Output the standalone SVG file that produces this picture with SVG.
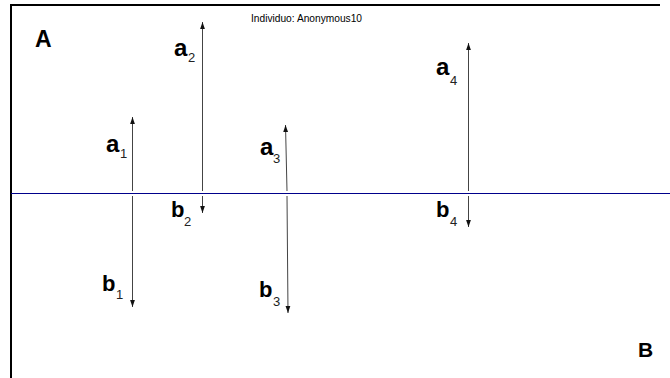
<svg xmlns="http://www.w3.org/2000/svg" width="670" height="378" viewBox="0 0 670 378">
<style>
.frame{stroke:#000;stroke-width:2;fill:none}
.axis{stroke:#00008b;stroke-width:1}
.arr{stroke:#444;stroke-width:1;fill:none;marker-end:url(#ah)}
.big{font-family:"Liberation Sans",Arial,sans-serif;font-weight:bold;fill:#000}
.la{font-size:24px}
.lb{font-size:22px}
.sub{font-family:"Liberation Sans",Arial,sans-serif;font-size:13px;fill:#222}
.title{font-family:"Liberation Sans",Arial,sans-serif;font-size:10.2px;fill:#000}
</style>
<defs>
<marker id="ah" markerUnits="userSpaceOnUse" markerWidth="8" markerHeight="6" refX="7" refY="3" orient="auto">
<path d="M0,0.6 L7,3 L0,5.4 z" fill="#111"/>
</marker>
</defs>
<rect width="670" height="378" fill="#fff"/>
<g id="frame">
<path class="frame" d="M11,378 L11,5 L660,5"/>
<line class="axis" x1="11" y1="193.5" x2="670" y2="193.5"/>
</g>
<text class="title" x="251" y="22">Individuo: Anonymous10</text>
<g id="connectors">
<line class="arr" x1="132.5" y1="191" x2="132.5" y2="117"/>
<line class="arr" x1="132.5" y1="196" x2="132.5" y2="307"/>
<line class="arr" x1="202.5" y1="191" x2="202.5" y2="22"/>
<line class="arr" x1="202.5" y1="196" x2="202.5" y2="213"/>
<line class="arr" x1="287" y1="191" x2="285.5" y2="125"/>
<line class="arr" x1="287" y1="196" x2="288" y2="313"/>
<line class="arr" x1="468.5" y1="191" x2="468.5" y2="43"/>
<line class="arr" x1="468.5" y1="196" x2="468.5" y2="227"/>
</g>
<g id="A"><text class="big" x="35" y="47" font-size="23">A</text></g>
<g id="B"><text class="big" x="638" y="357" font-size="21">B</text></g>
<g id="a1"><text class="big la" x="106" y="152">a</text><text class="sub" x="120" y="158">1</text></g>
<g id="a2"><text class="big la" x="174" y="56">a</text><text class="sub" x="188" y="62">2</text></g>
<g id="a3"><text class="big la" x="260" y="155">a</text><text class="sub" x="273" y="163">3</text></g>
<g id="a4"><text class="big la" x="436" y="75">a</text><text class="sub" x="450" y="85">4</text></g>
<g id="b1"><text class="big lb" x="102" y="291">b</text><text class="sub" x="116" y="299">1</text></g>
<g id="b2"><text class="big lb" x="171" y="217">b</text><text class="sub" x="184" y="226">2</text></g>
<g id="b3"><text class="big lb" x="259" y="297">b</text><text class="sub" x="273" y="306">3</text></g>
<g id="b4"><text class="big lb" x="436" y="217">b</text><text class="sub" x="450" y="226">4</text></g>
</svg>
